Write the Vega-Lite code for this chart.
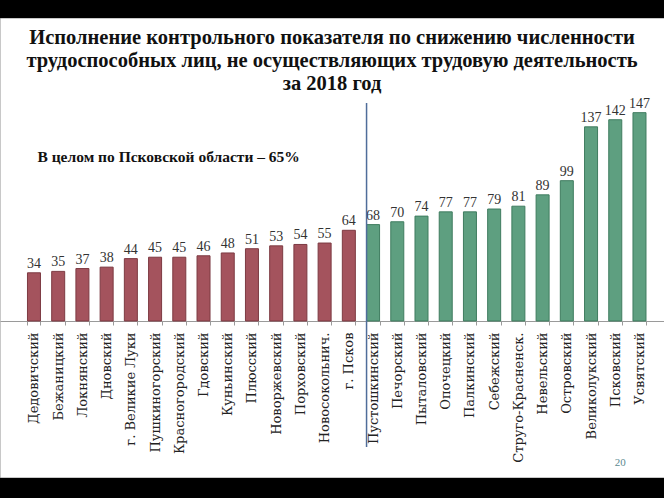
{
  "$schema": "https://vega.github.io/schema/vega-lite/v6.json",
  "width": 664,
  "height": 459,
  "autosize": "none",
  "padding": {"top": 18, "bottom": 21, "left": 0, "right": 0},
  "background": "#000000",
  "config": {
    "view": {"fill": "#ffffff", "stroke": "#c8c8c8"},
    "font": "Liberation Serif"
  },
  "title": {
    "text": ["Исполнение контрольного показателя по снижению численности", "трудоспособных лиц, не осуществляющих трудовую деятельность", "за 2018 год"],
    "font": "Liberation Serif",
    "fontSize": 20.5,
    "fontWeight": "bold",
    "color": "#111111",
    "anchor": "middle",
    "frame": "group",
    "baseline": "bottom",
    "offset": -96,
    "lineHeight": 23
  },
  "datasets": {
    "bars": [
      {"name": "Дедовичский", "v": 34, "g": "a"},
      {"name": "Бежаницкий", "v": 35, "g": "a"},
      {"name": "Локнянский", "v": 37, "g": "a"},
      {"name": "Дновский", "v": 38, "g": "a"},
      {"name": "г. Великие Луки", "v": 44, "g": "a"},
      {"name": "Пушкиногорский", "v": 45, "g": "a"},
      {"name": "Красногородский", "v": 45, "g": "a"},
      {"name": "Гдовский", "v": 46, "g": "a"},
      {"name": "Куньинский", "v": 48, "g": "a"},
      {"name": "Плюсский", "v": 51, "g": "a"},
      {"name": "Новоржевский", "v": 53, "g": "a"},
      {"name": "Порховский", "v": 54, "g": "a"},
      {"name": "Новосокольнич.", "v": 55, "g": "a"},
      {"name": "г. Псков", "v": 64, "g": "a"},
      {"name": "Пустошкинский", "v": 68, "g": "b"},
      {"name": "Печорский", "v": 70, "g": "b"},
      {"name": "Пыталовский", "v": 74, "g": "b"},
      {"name": "Опочецкий", "v": 77, "g": "b"},
      {"name": "Палкинский", "v": 77, "g": "b"},
      {"name": "Себежский", "v": 79, "g": "b"},
      {"name": "Струго-Красненск.", "v": 81, "g": "b"},
      {"name": "Невельский", "v": 89, "g": "b"},
      {"name": "Островский", "v": 99, "g": "b"},
      {"name": "Великолукский", "v": 137, "g": "b"},
      {"name": "Псковский", "v": 142, "g": "b"},
      {"name": "Усвятский", "v": 147, "g": "b"}
    ],
    "divider": [{"name": "Пустошкинский", "top": 153.8, "bottom": -88.9}],
    "notes": [
      {"name": "Дедовичский", "y": 115.7, "label": "В целом по Псковской области – 65%"}
    ],
    "page": [{"name": "Псковский", "y": -100.2, "label": "20"}]
  },
  "layer": [
    {
      "data": {"name": "bars"},
      "mark": {"type": "bar", "strokeWidth": 1},
      "encoding": {
        "x": {
          "field": "name", "type": "nominal", "sort": null,
          "scale": {
            "type": "band", "paddingInner": 0.463, "paddingOuter": 0.939, "align": 0.604,
            "domain": ["Дедовичский", "Бежаницкий", "Локнянский", "Дновский", "г. Великие Луки", "Пушкиногорский", "Красногородский", "Гдовский", "Куньинский", "Плюсский", "Новоржевский", "Порховский", "Новосокольнич.", "г. Псков", "Пустошкинский", "Печорский", "Пыталовский", "Опочецкий", "Палкинский", "Себежский", "Струго-Красненск.", "Невельский", "Островский", "Великолукский", "Псковский", "Усвятский"]
          },
          "axis": {
            "orient": "bottom", "offset": -156, "title": null,
            "labelAngle": -90, "labelFontSize": 13, "labelFont": "DejaVu Serif",
            "labelColor": "#222222", "labelPadding": 7, "labelLimit": 300,
            "tickBand": "extent", "tickSize": 4, "tickColor": "#9a9a9a",
            "domainColor": "#9a9a9a"
          }
        },
        "y": {
          "field": "v", "type": "quantitative",
          "scale": {"domain": [-110.1, 213.8], "nice": false, "zero": false},
          "axis": null
        },
        "y2": {"datum": 0},
        "fill": {"field": "g", "type": "nominal", "scale": {"domain": ["a", "b"], "range": ["#a4535d", "#5e9f80"]}, "legend": null},
        "stroke": {"field": "g", "type": "nominal", "scale": {"domain": ["a", "b"], "range": ["#7d3a42", "#3f7c5f"]}, "legend": null}
      }
    },
    {
      "data": {"name": "bars"},
      "mark": {"type": "text", "baseline": "bottom", "dy": -2, "fontSize": 14, "font": "Liberation Serif", "color": "#333333"},
      "encoding": {
        "x": {"field": "name", "type": "nominal", "sort": null},
        "y": {"field": "v", "type": "quantitative"},
        "text": {"field": "v", "type": "quantitative"}
      }
    },
    {
      "data": {"name": "divider"},
      "mark": {"type": "rule", "color": "#4f6d9a", "strokeWidth": 1.5},
      "encoding": {
        "x": {"field": "name", "type": "nominal", "sort": null, "bandPosition": 0},
        "y": {"field": "top", "type": "quantitative"},
        "y2": {"field": "bottom"}
      }
    },
    {
      "data": {"name": "notes"},
      "mark": {"type": "text", "align": "left", "baseline": "middle", "dx": 10, "fontSize": 15.5, "fontWeight": "bold", "font": "Liberation Serif", "color": "#111111"},
      "encoding": {
        "x": {"field": "name", "type": "nominal", "sort": null, "bandPosition": 0},
        "y": {"field": "y", "type": "quantitative"},
        "text": {"field": "label", "type": "nominal"}
      }
    },
    {
      "data": {"name": "page"},
      "mark": {"type": "text", "align": "center", "baseline": "middle", "dx": 5, "fontSize": 11, "font": "Liberation Serif", "color": "#5b8a8f"},
      "encoding": {
        "x": {"field": "name", "type": "nominal", "sort": null},
        "y": {"field": "y", "type": "quantitative"},
        "text": {"field": "label", "type": "nominal"}
      }
    }
  ]
}
